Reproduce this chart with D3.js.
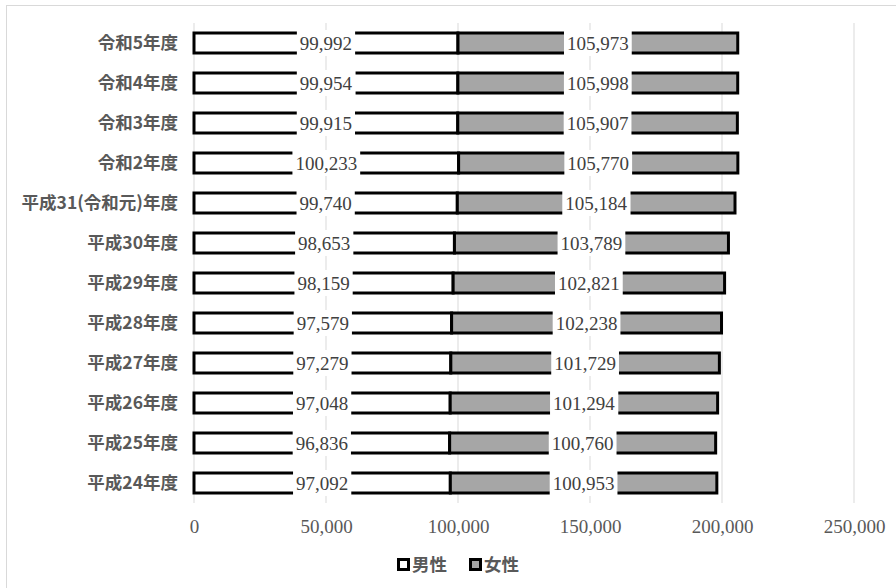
<!DOCTYPE html>
<html>
<head>
<meta charset="utf-8">
<script src="https://cdn.jsdelivr.net/npm/d3@7"></script>
<style>
  body { margin: 0; background: #fff; }
</style>
</head>
<body>
<div id="chart"></div>
<script>
// Data
var years = ["令和5年度", "令和4年度", "令和3年度", "令和2年度", "平成31(令和元)年度", "平成30年度",
    "平成29年度", "平成28年度", "平成27年度", "平成26年度", "平成25年度", "平成24年度"];
var male = [99992, 99954, 99915, 100233, 99740, 98653, 98159, 97579, 97279, 97048, 96836, 97092];
var female = [105973, 105998, 105907, 105770, 105184, 103789, 102821, 102238, 101729, 101294, 100760, 100953];
var seriesNames = ["男性", "女性"];
var xTicks = [0, 50000, 100000, 150000, 200000, 250000];

// Chart params
var svgWidth = 896;
var svgHeight = 588;
var margin = { top: 23, right: 42, bottom: 85, left: 194 };
var width = svgWidth - margin.left - margin.right;
var height = svgHeight - margin.top - margin.bottom;

var svg = d3.select("#chart")
    .append("svg")
    .attr("width", svgWidth)
    .attr("height", svgHeight);

// outer frame
svg.append("rect")
    .attr("x", 6.5).attr("y", 5.5)
    .attr("width", svgWidth).attr("height", svgHeight)
    .attr("fill", "none")
    .attr("stroke", "#d9d9d9");

var chartGroup = svg.append("g")
    .attr("transform", `translate(${margin.left}, ${margin.top})`);

var xScale = d3.scaleLinear().domain([0, 250000]).range([0, 660]);
var yScale = d3.scaleBand().domain(years).range([0, height])
    .paddingInner(0.5)
    .paddingOuter(0.25);

// gridlines
chartGroup.selectAll(".grid")
    .data(xTicks)
    .enter()
    .append("line")
    .attr("x1", d => xScale(d)).attr("x2", d => xScale(d))
    .attr("y1", 0).attr("y2", height)
    .attr("stroke", "#d9d9d9")
    .attr("stroke-width", 1);

// x axis
var bottomAxis = d3.axisBottom(xScale)
    .tickValues(xTicks)
    .tickSize(0)
    .tickPadding(17)
    .tickFormat(d3.format(","));
var xAxis = chartGroup.append("g")
    .attr("transform", `translate(0, ${height})`)
    .call(bottomAxis);
xAxis.select(".domain").remove();
xAxis.selectAll("text")
    .attr("font-family", "'Liberation Serif', 'Times New Roman', serif")
    .attr("font-size", "19px")
    .attr("fill", "#595959");

// y axis labels
var leftAxis = d3.axisLeft(yScale).tickSize(0).tickPadding(16);
var yAxis = chartGroup.append("g").call(leftAxis);
yAxis.select(".domain").remove();
yAxis.selectAll("text")
    .attr("font-family", "'Noto Sans CJK JP', sans-serif")
    .attr("font-size", "17.5px")
    .attr("font-weight", "bold")
    .attr("fill", "#595959");

// stacked data
var rows = years.map((y, i) => ({ year: y, male: male[i], female: female[i] }));
var stack = d3.stack().keys(["male", "female"]);
var stacked = stack(rows);
var fills = ["#ffffff", "#a6a6a6"];

var layers = chartGroup.selectAll(".layer")
    .data(stacked)
    .enter()
    .append("g")
    .attr("fill", (d, i) => fills[i]);

layers.selectAll("rect")
    .data(d => d)
    .enter()
    .append("rect")
    .attr("x", d => xScale(d[0]))
    .attr("y", d => yScale(d.data.year))
    .attr("width", d => xScale(d[1]) - xScale(d[0]))
    .attr("height", yScale.bandwidth())
    .attr("stroke", "#000")
    .attr("stroke-width", 3);

// value labels
layers.each(function(layer) {
    var g = d3.select(this);
    layer.forEach(function(d) {
        var cx = xScale((d[0] + d[1]) / 2);
        var cy = yScale(d.data.year) + yScale.bandwidth() / 2;
        var lg = g.append("g");
        var bg = lg.append("rect").attr("fill", "#fff");
        var t = lg.append("text")
            .attr("x", cx)
            .attr("y", cy)
            .attr("dy", "0.35em")
            .attr("text-anchor", "middle")
            .attr("font-family", "'Liberation Serif', 'Times New Roman', serif")
            .attr("font-size", "19px")
            .attr("fill", "#404040")
            .text(d3.format(",")(d[1] - d[0]));
        var bb = t.node().getBBox();
        bg.attr("x", bb.x - 3).attr("y", cy - 13)
            .attr("width", bb.width + 6).attr("height", 26);
    });
});

// legend
var legend = svg.append("g").attr("transform", "translate(397, 565)");
var lx = [0, 72];
seriesNames.forEach(function(name, i) {
    legend.append("rect")
        .attr("x", lx[i] + 1.5).attr("y", -5.5)
        .attr("width", 10).attr("height", 10)
        .attr("fill", fills[i])
        .attr("stroke", "#000")
        .attr("stroke-width", 3);
    legend.append("text")
        .attr("x", lx[i] + 15)
        .attr("y", 0)
        .attr("dy", "0.35em")
        .attr("font-family", "'Noto Sans CJK JP', sans-serif")
        .attr("font-size", "17.5px")
        .attr("font-weight", "bold")
        .attr("fill", "#595959")
        .text(name);
});
</script>
</body>
</html>
